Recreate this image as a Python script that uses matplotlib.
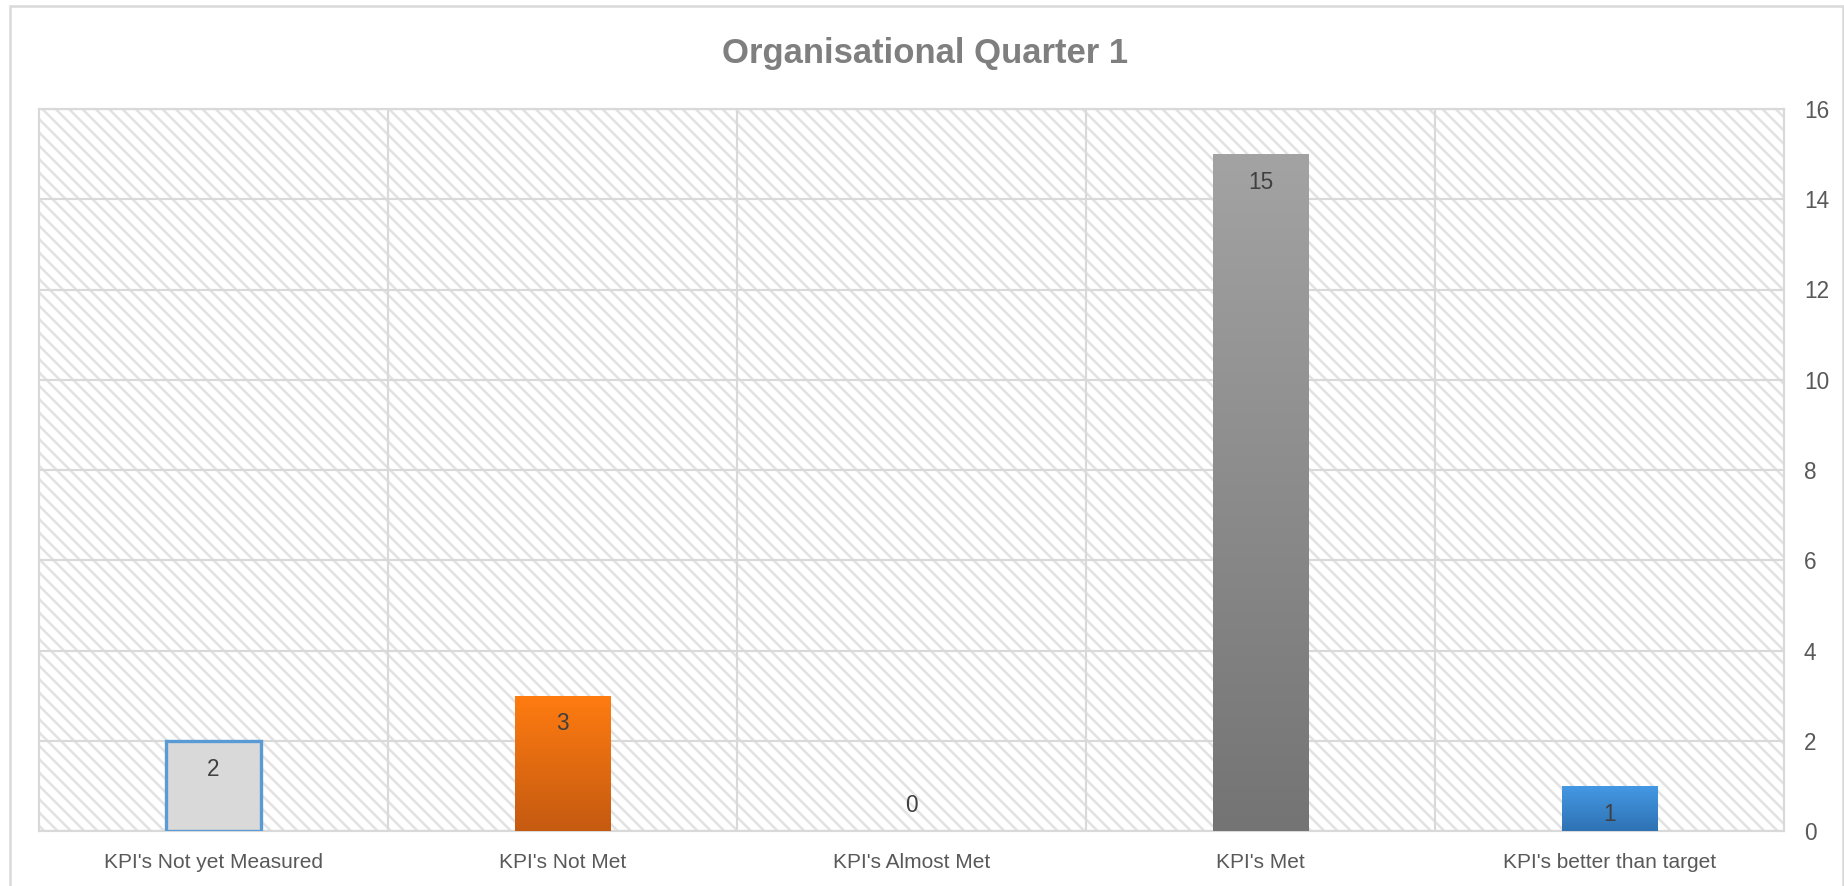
import numpy as np
import matplotlib.pyplot as plt
from matplotlib.colors import LinearSegmentedColormap
from matplotlib.patches import Rectangle

categories = ["KPI's Not yet Measured", "KPI's Not Met", "KPI's Almost Met",
              "KPI's Met", "KPI's better than target"]
values = [2, 3, 0, 15, 1]
top_colors = ['#d9d9d9', '#ff7c10', '#ffc000', '#a3a3a3', '#4599e4']
bottom_colors = ['#d9d9d9', '#c55a11', '#bf9000', '#747474', '#2e72b4']
edge_colors = ['#5b9bd5', 'none', 'none', 'none', 'none']
yticks = [0, 2, 4, 6, 8, 10, 12, 14, 16]

plt.rcParams['font.family'] = ['Liberation Sans Narrow', 'Liberation Sans', 'DejaVu Sans']
plt.rcParams['hatch.linewidth'] = 1.5

DPI = 120
fig = plt.figure(figsize=(1844 / DPI, 886 / DPI), dpi=DPI)
ax = fig.add_axes([39 / 1844, 55 / 886, 1745 / 1844, 722 / 886])

# hatched plot-area background
ax.add_patch(Rectangle((0, 0), 1, 1, transform=ax.transAxes, facecolor='white',
                       edgecolor='#e2e2e2', hatch='\\\\\\', linewidth=0, zorder=0))

x = np.arange(len(categories))
bars = ax.bar(x, values, width=0.275, color=top_colors, edgecolor=edge_colors,
              linewidth=2, zorder=3)

# vertical gradient fill for each bar
for bar, c_top, c_bot in zip(bars, top_colors, bottom_colors):
    h = bar.get_height()
    if h == 0 or c_top == c_bot:
        continue
    cmap = LinearSegmentedColormap.from_list('g', [c_bot, c_top])
    grad = np.linspace(0, 1, 256).reshape(-1, 1)
    im = ax.imshow(grad, extent=[bar.get_x(), bar.get_x() + bar.get_width(), 0, h],
                   origin='lower', cmap=cmap, aspect='auto', zorder=3.5)
    im.set_clip_path(bar)

for bar, v in zip(bars, values):
    cx = bar.get_x() + bar.get_width() / 2
    off = -17 if v > 0 else 15
    ax.annotate(str(v), (cx, v), xytext=(0, off), textcoords='offset points',
                ha='center', va='center', fontsize=13.5, color='#404040', zorder=5)

ax.set_xlim(-0.5, len(categories) - 0.5)
ax.set_ylim(0, 16)
ax.set_xticks(x)
ax.set_xticklabels(categories)
ax.set_yticks(yticks)
ax.yaxis.tick_right()
ax.set_xticks(np.arange(0.5, len(categories) - 0.5), minor=True)
ax.tick_params(axis='both', which='both', length=0, labelsize=13.5, colors='#595959')
ax.tick_params(axis='x', labelsize=12.5, pad=13.5)
ax.tick_params(axis='y', pad=12)
ax.grid(axis='y', color='#d9d9d9', linewidth=1.3, zorder=1)
ax.grid(axis='x', which='minor', color='#d9d9d9', linewidth=1.3, zorder=1)
ax.set_axisbelow(True)
for s in ax.spines.values():
    s.set_color('#d9d9d9')
    s.set_linewidth(1.3)

fig.text(925 / 1844, 1 - 53 / 886, 'Organisational Quarter 1', ha='center', va='center',
         fontsize=20.8, fontweight='bold', color='#7f7f7f')

fig.patches.append(Rectangle((10 / 1844, -0.01), 1833 / 1844, 1.01 - 6 / 886,
                             transform=fig.transFigure, fill=False,
                             edgecolor='#d9d9d9', linewidth=1.5))

fig.savefig('out.png', dpi=DPI)
